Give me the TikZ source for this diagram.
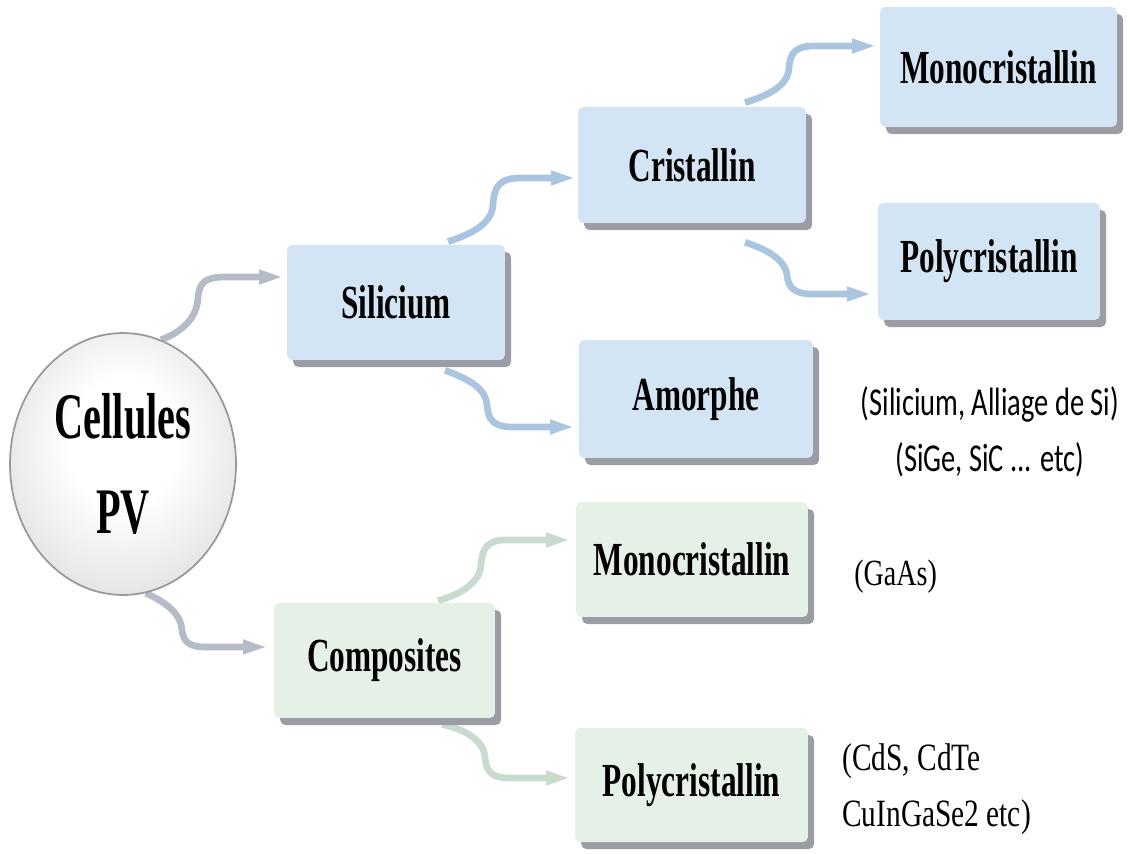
\documentclass[tikz,border=0pt]{standalone}
\usepackage{fontspec}
\setmainfont{Liberation Serif}
\newfontfamily\boxfont[FakeStretch=0.66]{Liberation Serif}
\newfontfamily\sphfont[FakeStretch=0.62]{Liberation Serif}
\newfontfamily\annsans[FakeStretch=0.72]{Carlito}
\newfontfamily\annserif[FakeStretch=0.76]{Liberation Serif}
\usetikzlibrary{shapes.geometric,shadows,calc,arrows.meta}
\pgfdeclarelayer{bg}
\pgfsetlayers{bg,main}
\definecolor{boxblue}{HTML}{D3E5F4}
\definecolor{boxgreen}{HTML}{E5F1E7}
\definecolor{arrblue}{HTML}{A9C5E0}
\definecolor{arrgrey}{HTML}{B5BCC8}
\definecolor{arrgreen}{HTML}{C9DACE}
\definecolor{shadowgray}{HTML}{9C9CA4}
\pgfdeclareradialshading{sphereshade}{\pgfpoint{0bp}{6bp}}{color(0bp)=(white); color(12bp)=(white); color(26bp)=(gray!18); color(38bp)=(gray!38); color(46bp)=(gray!58); color(50bp)=(gray!75)}
\tikzset{
  cbox/.style={rectangle, rounded corners=3pt, inner sep=0pt,
    font=\boxfont\bfseries\fontsize{27}{31}\selectfont,
    drop shadow={shadow xshift=3.5pt, shadow yshift=-4pt, fill=shadowgray, opacity=1}},
  bluebox/.style={cbox, fill=boxblue},
  greenbox/.style={cbox, fill=boxgreen},
  arr/.style={line width=3.8pt, -{Triangle[length=14pt,width=7.5pt]}},
  annsansstyle/.style={font=\annsans\fontsize{22.5}{32}\selectfont, align=center, inner sep=0pt},
  annserifstyle/.style={font=\annserif\fontsize{22}{32}\selectfont, align=left, inner sep=0pt, anchor=west},
}
\begin{document}
\begin{tikzpicture}[x=0.02cm, y=-0.02cm]
\useasboundingbox (0,0) rectangle (1130,853);

% sphere
\node[ellipse, minimum width=4.52cm, minimum height=5.24cm, shading=sphereshade,
      draw=gray!80, line width=1pt, inner sep=0pt, align=center,
      font=\sphfont\bfseries\fontsize{37}{54}\selectfont] (sph) at (123,464) {Cellules\\PV};

% boxes
\node[bluebox, minimum width=4.74cm, minimum height=2.40cm] (mono1) at (998.5,67) {Monocristallin};
\node[bluebox, minimum width=4.44cm, minimum height=2.34cm] (poly1) at (989,261.5) {Polycristallin};
\node[bluebox, minimum width=4.56cm, minimum height=2.32cm] (crist) at (692,165) {Cristallin};
\node[bluebox, minimum width=4.36cm, minimum height=2.30cm] (sil) at (396,302.5) {Silicium};
\node[bluebox, minimum width=4.68cm, minimum height=2.36cm] (amor) at (696,399) {Amorphe};
\node[greenbox, minimum width=4.64cm, minimum height=2.30cm] (mono2) at (692,559.5) {Monocristallin};
\node[greenbox, minimum width=4.42cm, minimum height=2.30cm] (comp) at (384.5,660.5) {Composites};
\node[greenbox, minimum width=4.66cm, minimum height=2.28cm] (poly2) at (691.5,785) {Polycristallin};

% annotations
\node[annsansstyle] (n1) at (990,432) {(Silicium, Alliage de Si)\\(SiGe, SiC ... etc)};
\node[annserifstyle, font=\annserif\fontsize{21}{24}\selectfont] (n2) at (854,577) {(GaAs)};
\node[annserifstyle] (n3) at (842,789) {(CdS, CdTe\\CuInGaSe2 etc)};

% connectors
\begin{pgfonlayer}{bg}
\draw[arr, arrgrey] (sph.73) .. controls (182,332) and (197,318) .. (198,298)
   .. controls (199,282) and (206,277) .. (225,277) -- ($(sil.west)+(-3,-25.5)$);
\draw[arr, arrgrey] (sph.-80) .. controls (168,603) and (181,615) .. (182,630)
   .. controls (183,642) and (190,647) .. (205,647) -- ($(comp.west)+(-6,-13.5)$);
\draw[arr, arrblue] ($(sil.north)+(52,-3)$) .. controls (475,233) and (492,222) .. (493,205)
   .. controls (494,186) and (500,178) .. (520,178) -- ($(crist.west)+(-2,13)$);
\draw[arr, arrblue] ($(sil.south)+(49,10)$) .. controls (472,380) and (486,390) .. (487,405)
   .. controls (488,420) and (494,427) .. (512,427) -- ($(amor.west)+(-4,28)$);
\draw[arr, arrblue] ($(crist.north)+(53,-4)$) .. controls (770,95) and (788,85) .. (789,68)
   .. controls (790,52) and (796,46) .. (815,46) -- ($(mono1.west)+(-3,-21)$);
\draw[arr, arrblue] ($(crist.south)+(53,19)$) .. controls (770,250) and (786,262) .. (787,275)
   .. controls (788,288) and (795,294) .. (812,294) -- ($(poly1.west)+(-6,32.5)$);
\draw[arr, arrgreen] ($(comp.north)+(53.5,-2)$) .. controls (462,594) and (480,582) .. (481,565)
   .. controls (482,548) and (488,540) .. (505,540) -- ($(mono2.west)+(-5,-19.5)$);
\draw[arr, arrgreen] ($(comp.south)+(57.5,6)$) .. controls (468,730) and (484,742) .. (485,757)
   .. controls (486,772) and (492,778) .. (510,778) -- ($(poly2.west)+(-4,-7)$);
\end{pgfonlayer}
\end{tikzpicture}
\end{document}
